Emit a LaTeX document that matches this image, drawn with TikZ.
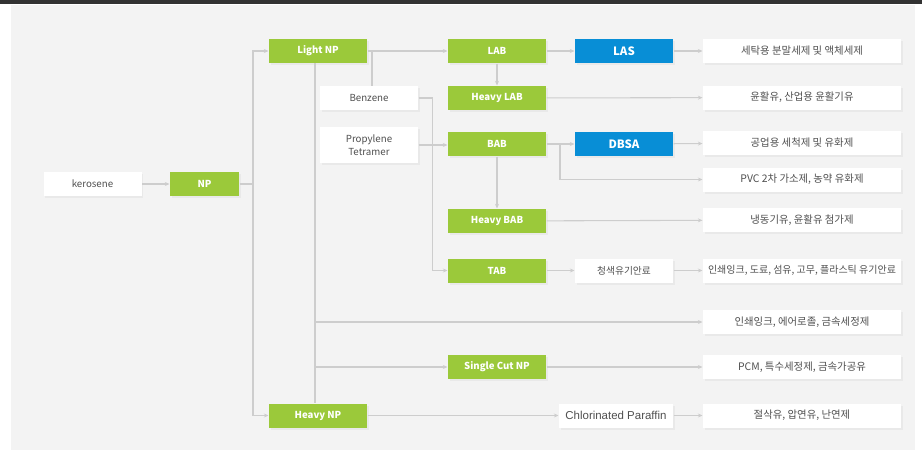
\documentclass[tikz,border=0pt]{standalone}
\usepackage{fontspec}
\setmainfont{Noto Sans CJK KR}
\newfontfamily\paraffinfont{Liberation Sans}
\usetikzlibrary{arrows.meta,shadows,calc}

\definecolor{npgreen}{RGB}{155,201,58}
\definecolor{npblue}{RGB}{8,142,214}
\definecolor{linegray}{RGB}{205,205,205}
\definecolor{bggray}{RGB}{243,243,243}
\definecolor{txtgray}{RGB}{80,80,80}
\definecolor{topbar}{RGB}{50,50,50}

\tikzset{every picture/.style={line width=0.75pt}}
\tikzset{
  box/.style={inner sep=0pt, minimum width=73.5pt, minimum height=18pt, align=center,
    drop shadow={opacity=0.08, shadow xshift=1.2pt, shadow yshift=-1.5pt}},
  greenbox/.style={box, fill=npgreen, text=white, font=\fontsize{7.2}{9}\selectfont\bfseries},
  bluebox/.style={box, fill=npblue, text=white, font=\fontsize{8.6}{10}\selectfont\bfseries},
  whitebox/.style={box, fill=white, text=txtgray, font=\fontsize{7.3}{9.5}\selectfont},
  usebox/.style={whitebox, minimum width=148.5pt, font=\fontsize{7.8}{9}\selectfont},
  link/.style={draw=linegray, line width=0.8pt},
  conn/.style={link, -{Stealth[length=3.5pt,width=3pt]}},
}

\begin{document}
\begin{tikzpicture}[x=0.75pt,y=0.75pt,yscale=-1,xscale=1]
        % frame
        \fill[white] (0,0) rectangle (922,450);
        \fill[bggray] (11,5) rectangle (915,450);
        \fill[topbar] (0,0) rectangle (922,4);
        \useasboundingbox (0,0) rectangle (922,450);

        % raw material and NP
        \node[whitebox] (kerosene) at (92.5,184) {kerosene};
        \node[greenbox, minimum width=51.75pt] (np) at (204.5,184) {NP};
        \node[greenbox] (lightnp) at (318,51) {Light NP};
        \node[greenbox] (heavynp) at (318,415.5) {Heavy NP};
        \node[whitebox] (benzene) at (369,98) {Benzene};
        \node[whitebox, minimum height=27pt] (propylene) at (369,145) {Propylene\\Tetramer};

        % intermediates
        \node[greenbox] (lab) at (497,51) {LAB};
        \node[greenbox] (heavylab) at (497,98) {Heavy LAB};
        \node[greenbox] (bab) at (497,144) {BAB};
        \node[greenbox] (heavybab) at (497,221) {Heavy BAB};
        \node[greenbox] (tab) at (497,270.5) {TAB};
        \node[greenbox] (singlecut) at (497,367) {Single Cut NP};

        \node[bluebox] (las) at (624,51) {LAS};
        \node[bluebox] (dbsa) at (624,144) {DBSA};
        \node[whitebox] (pigment) at (624,270.5) {청색유기안료};
        \node[whitebox, minimum width=85.5pt, font=\fontsize{8.6}{10}\selectfont\paraffinfont] (paraffin) at (616,415.5) {Chlorinated Paraffin};

        % uses
        \node[usebox] (use1) at (802,51) {세탁용 분말세제 및 액체세제};
        \node[usebox] (use2) at (802,97.5) {윤활유, 산업용 윤활기유};
        \node[usebox] (use3) at (802,143) {공업용 세척제 및 유화제};
        \node[usebox] (use4) at (802,179.5) {PVC 2차 가소제, 농약 유화제};
        \node[usebox] (use5) at (802,220) {냉동기유, 윤활유 첨가제};
        \node[usebox, font=\fontsize{7.5}{9}\selectfont] (use6) at (802,270.5) {인쇄잉크, 도료, 섬유, 고무, 플라스틱 유기안료};
        \node[usebox] (use7) at (802,322) {인쇄잉크, 에어로졸, 금속세정제};
        \node[usebox] (use8) at (802,367) {PCM, 특수세정제, 금속가공유};
        \node[usebox] (use9) at (802,415.5) {절삭유, 압연유, 난연제};

        % junctions
        \coordinate (trunk) at (253,184);
        \coordinate (bzjoin) at (372,51);
        \coordinate (npdown) at (315,63);
        \coordinate (inkjoin) at (315,322);
        \coordinate (cutjoin) at (315,367);
        \coordinate (babjoin) at (560,144);

        % connectors
        \draw[conn] (kerosene) -- (np);
        \draw[link] (np) -- (trunk);
        \draw[conn] (trunk) |- (lightnp);
        \draw[conn] (trunk) |- (heavynp);
        \draw[conn] (lightnp) -- (lab);
        \draw[link] (bzjoin) -- (bzjoin |- benzene.north);
        \draw[link] (npdown) -- (npdown |- heavynp.north);
        \draw[conn] (inkjoin) -- (use7);
        \draw[conn] (cutjoin) -- (singlecut);
        \draw[conn] (benzene.east) -- ++(14,0) |- (tab);
        \draw[conn] (propylene.east) -- (propylene.east -| bab.west);
        \draw[conn] (lab) -- (heavylab);
        \draw[conn] (bab) -- (heavybab);
        \draw[conn] (lab) -- (las);
        \draw[conn] (las) -- (use1);
        \draw[conn] (heavylab) -- (use2);
        \draw[conn] (bab) -- (dbsa);
        \draw[conn] (dbsa) -- (use3);
        \draw[conn] (babjoin) |- (use4);
        \draw[conn] (heavybab) -- (use5);
        \draw[conn] (tab) -- (pigment);
        \draw[conn] (pigment) -- (use6);
        \draw[conn] (singlecut) -- (use8);
        \draw[conn] (heavynp) -- (paraffin);
        \draw[conn] (paraffin) -- (use9);
\end{tikzpicture}
\end{document}
